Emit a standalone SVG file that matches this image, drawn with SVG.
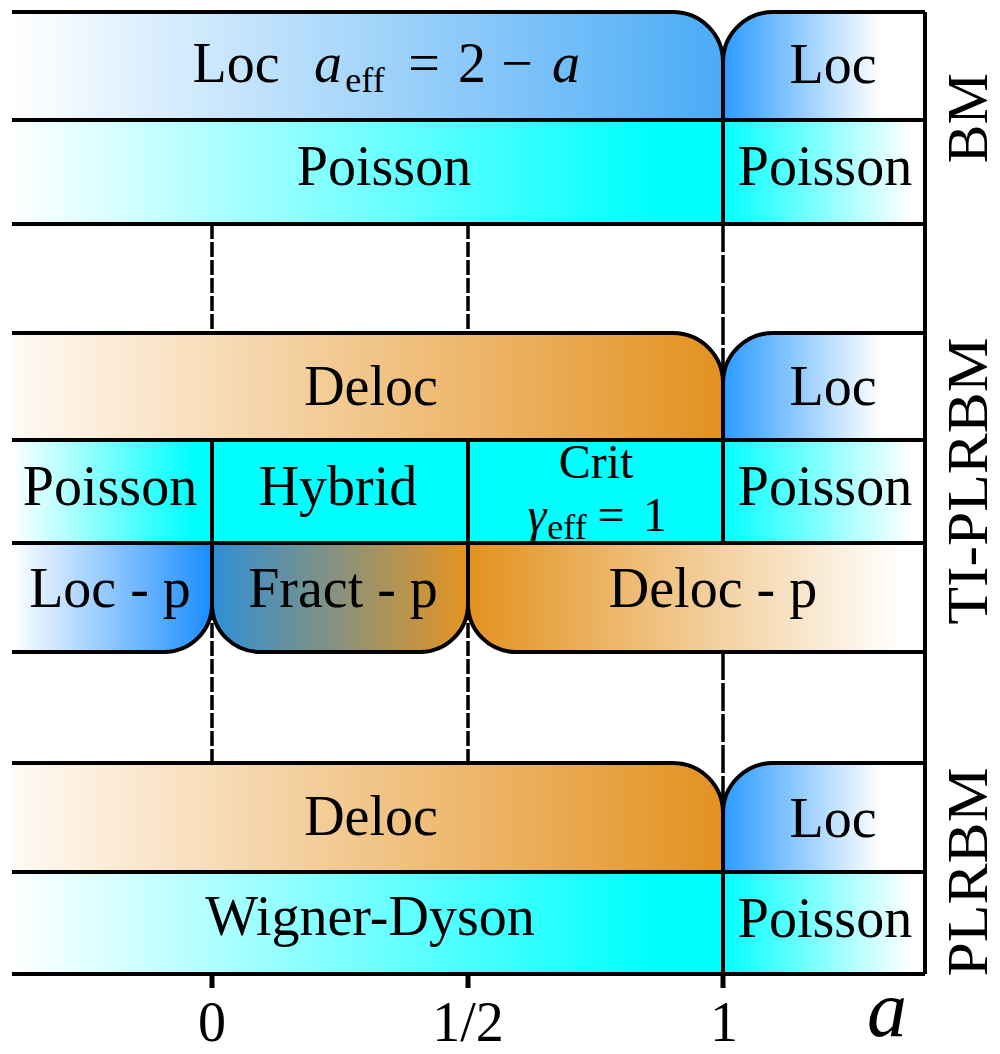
<svg xmlns="http://www.w3.org/2000/svg" width="1000" height="1054" viewBox="0 0 1000 1054">
  <style>
    text { font-family: "Liberation Serif", "Times New Roman", "DejaVu Serif", serif; fill: #000; text-anchor: middle; }
    .lbl { font-size: 56px; }
    .sm { font-size: 48px; }
    .side { font-size: 58px; }
    .it { font-style: italic; }
    .sub { font-size: 36px; }
    .edge { fill: none; stroke: #000; stroke-width: 4; stroke-linejoin: round; }
    .guide { fill: none; stroke: #000; stroke-width: 3.5; stroke-dasharray: 15 3; }
    .guide-long { fill: none; stroke: #000; stroke-width: 3.5; stroke-dasharray: 28 3; }
    .tick { fill: none; stroke: #000; stroke-width: 5; }
  </style>
  <defs>
    <!-- localized: white to blue over the a<1 span -->
    <linearGradient id="gBlueWide" gradientUnits="userSpaceOnUse" x1="12" y1="0" x2="723" y2="0">
      <stop offset="0" stop-color="#ffffff"/>
      <stop offset="1" stop-color="#4aabf6"/>
    </linearGradient>
    <!-- localized: strong blue fading to white for a>1 -->
    <linearGradient id="gBlueRight" gradientUnits="userSpaceOnUse" x1="723" y1="0" x2="925" y2="0">
      <stop offset="0" stop-color="#2a9bff"/>
      <stop offset="0.78" stop-color="#ffffff"/>
      <stop offset="1" stop-color="#ffffff"/>
    </linearGradient>
    <linearGradient id="gBlueLeftCell" gradientUnits="userSpaceOnUse" x1="12" y1="0" x2="212" y2="0">
      <stop offset="0" stop-color="#ffffff"/>
      <stop offset="1" stop-color="#1b8cff"/>
    </linearGradient>
    <linearGradient id="gFract" gradientUnits="userSpaceOnUse" x1="212" y1="0" x2="468" y2="0">
      <stop offset="0" stop-color="#2e8fd8"/>
      <stop offset="1" stop-color="#e6951f"/>
    </linearGradient>
    <!-- delocalized: white to orange -->
    <linearGradient id="gOrange" gradientUnits="userSpaceOnUse" x1="12" y1="0" x2="723" y2="0">
      <stop offset="0" stop-color="#fffaf4"/>
      <stop offset="1" stop-color="#e39120"/>
    </linearGradient>
    <linearGradient id="gOrangeRight" gradientUnits="userSpaceOnUse" x1="468" y1="0" x2="925" y2="0">
      <stop offset="0" stop-color="#e39120"/>
      <stop offset="0.95" stop-color="#ffffff"/>
      <stop offset="1" stop-color="#ffffff"/>
    </linearGradient>
    <!-- level statistics: cyan -->
    <linearGradient id="gCyanWide" gradientUnits="userSpaceOnUse" x1="12" y1="0" x2="723" y2="0">
      <stop offset="0" stop-color="#ffffff"/>
      <stop offset="0.9" stop-color="#00ffff"/>
      <stop offset="1" stop-color="#00ffff"/>
    </linearGradient>
    <linearGradient id="gCyanLeftCell" gradientUnits="userSpaceOnUse" x1="12" y1="0" x2="212" y2="0">
      <stop offset="0" stop-color="#ffffff"/>
      <stop offset="0.9" stop-color="#00ffff"/>
      <stop offset="1" stop-color="#00ffff"/>
    </linearGradient>
    <linearGradient id="gCyanRight" gradientUnits="userSpaceOnUse" x1="723" y1="0" x2="925" y2="0">
      <stop offset="0" stop-color="#00ffff"/>
      <stop offset="0.93" stop-color="#ffffff"/>
      <stop offset="1" stop-color="#ffffff"/>
    </linearGradient>
  </defs>

  <rect x="0" y="0" width="1000" height="1054" fill="#ffffff"/>

  <!-- dashed guides at a = 0, 1/2, 1 between the model blocks, and axis ticks -->
  <g id="connectors">
    <path class="guide" d="M212,224 V333 M468,224 V333"/>
    <path class="guide-long" d="M723,224 V383"/>
    <path class="guide" d="M212,605 V763 M468,605 V763"/>
    <path class="guide-long" d="M723,652 V813"/>
    <path class="tick" d="M212,960 V988 M468,960 V988 M723,960 V988"/>
  </g>

  <!-- BM block -->
  <g id="bm">
    <path d="M12,12 H673 A50,50 0 0 1 723,62 V120 H12 Z" fill="url(#gBlueWide)"/>
    <path d="M723,120 V62 A50,50 0 0 1 773,12 H925 V120 Z" fill="url(#gBlueRight)"/>
    <rect x="12" y="120" width="711" height="104" fill="url(#gCyanWide)"/>
    <rect x="723" y="120" width="202" height="104" fill="url(#gCyanRight)"/>
    <path class="edge" d="M12,12 H673 A50,50 0 0 1 723,62 A50,50 0 0 1 773,12 H925"/>
    <path class="edge" d="M723,62 V224 M12,120 H925 M12,224 H925"/>
    <text class="lbl" x="236" y="82">Loc</text>
    <text class="lbl it" x="328" y="82">a</text>
    <text class="lbl sub" x="365" y="92">eff</text>
    <text class="lbl" x="424" y="82">=</text>
    <text class="lbl" x="472" y="82">2</text>
    <text class="lbl" x="517" y="82">−</text>
    <text class="lbl it" x="566" y="82">a</text>
    <text class="lbl" x="833" y="83">Loc</text>
    <text class="lbl" x="384" y="185">Poisson</text>
    <text class="lbl" x="825" y="185">Poisson</text>
  </g>

  <!-- TI-PLRBM block -->
  <g id="ti-plrbm">
    <path d="M12,333 H673 A50,50 0 0 1 723,383 V440 H12 Z" fill="url(#gOrange)"/>
    <path d="M723,440 V383 A50,50 0 0 1 773,333 H925 V440 Z" fill="url(#gBlueRight)"/>
    <rect x="12" y="440" width="200" height="103" fill="url(#gCyanLeftCell)"/>
    <rect x="212" y="440" width="511" height="103" fill="#00ffff"/>
    <rect x="723" y="440" width="202" height="103" fill="url(#gCyanRight)"/>
    <path d="M12,543 H212 V604 A48,48 0 0 1 164,652 H12 Z" fill="url(#gBlueLeftCell)"/>
    <path d="M212,543 H468 V604 A48,48 0 0 1 420,652 H260 A48,48 0 0 1 212,604 Z" fill="url(#gFract)"/>
    <path d="M468,543 H925 V652 H516 A48,48 0 0 1 468,604 Z" fill="url(#gOrangeRight)"/>
    <path class="edge" d="M12,333 H673 A50,50 0 0 1 723,383 A50,50 0 0 1 773,333 H925"/>
    <path class="edge" d="M723,383 V543 M12,440 H925 M12,543 H925 M212,440 V604 M468,440 V604"/>
    <path class="edge" d="M12,652 H164 A48,48 0 0 0 212,604 A48,48 0 0 0 260,652 H420 A48,48 0 0 0 468,604 A48,48 0 0 0 516,652 H925"/>
    <text class="lbl" x="371" y="405">Deloc</text>
    <text class="lbl" x="833" y="405">Loc</text>
    <text class="lbl" x="110" y="505">Poisson</text>
    <text class="lbl" x="338" y="505">Hybrid</text>
    <text class="sm" x="596" y="478">Crit</text>
    <text class="sm it" x="537" y="531">γ</text>
    <text class="sub" x="567" y="539">eff</text>
    <text class="sm" x="611" y="531">=</text>
    <text class="sm" x="655" y="531">1</text>
    <text class="lbl" x="825" y="505">Poisson</text>
    <text class="lbl" x="110" y="607">Loc - p</text>
    <text class="lbl" x="343" y="607">Fract - p</text>
    <text class="lbl" x="713" y="607">Deloc - p</text>
  </g>

  <!-- PLRBM block -->
  <g id="plrbm">
    <path d="M12,763 H673 A50,50 0 0 1 723,813 V872 H12 Z" fill="url(#gOrange)"/>
    <path d="M723,872 V813 A50,50 0 0 1 773,763 H925 V872 Z" fill="url(#gBlueRight)"/>
    <rect x="12" y="872" width="711" height="102" fill="url(#gCyanWide)"/>
    <rect x="723" y="872" width="202" height="102" fill="url(#gCyanRight)"/>
    <path class="edge" d="M12,763 H673 A50,50 0 0 1 723,813 A50,50 0 0 1 773,763 H925"/>
    <path class="edge" d="M723,813 V988 M12,872 H925"/>
    <text class="lbl" x="371" y="835">Deloc</text>
    <text class="lbl" x="833" y="837">Loc</text>
    <text class="lbl" x="370" y="935">Wigner-Dyson</text>
    <text class="lbl" x="825" y="937">Poisson</text>
  </g>

  <!-- frame: right edge and a-axis -->
  <g id="axis">
    <path class="edge" d="M925,12 V974 M12,974 H925"/>
    <text class="lbl" x="212" y="1041">0</text>
    <text class="lbl" x="468" y="1041">1/2</text>
    <text class="lbl" x="724" y="1041">1</text>
    <text class="it" x="887" y="1036" style="font-size:80px">a</text>
  </g>

  <!-- model names -->
  <g id="model-labels">
    <text class="side" transform="translate(987,118) rotate(-90)">BM</text>
    <text class="side" transform="translate(987,481) rotate(-90)" textLength="287" lengthAdjust="spacingAndGlyphs">TI-PLRBM</text>
    <text class="side" transform="translate(987,872) rotate(-90)" textLength="209" lengthAdjust="spacingAndGlyphs">PLRBM</text>
  </g>
</svg>
